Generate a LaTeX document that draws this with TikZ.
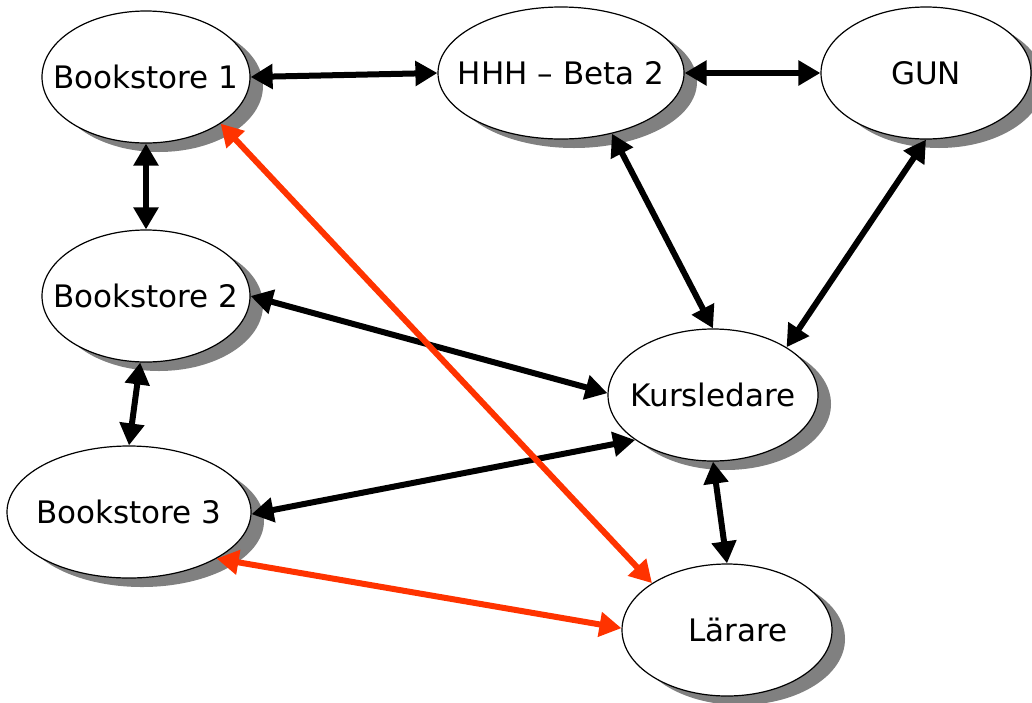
\documentclass[tikz,border=0pt]{standalone}
\usepackage{fontspec}
\setmainfont{DejaVu Sans}
\usetikzlibrary{shapes.geometric, shadows, arrows.meta}
\definecolor{linkred}{RGB}{255,51,0}

\begin{document}
\begin{tikzpicture}[x=0.5pt, y=-0.5pt, >={Triangle[length=11pt,width=12pt]},
    actor/.style={ellipse, draw, line width=0.6pt, fill=white, minimum height=66pt,
      inner xsep=-20pt, inner ysep=0pt, font=\fontsize{15.5}{18}\selectfont,
      drop shadow={shadow xshift=6.5pt, shadow yshift=-4.5pt, fill=gray, opacity=1}},
    link/.style={line width=3pt, <->},
    redlink/.style={link, draw=linkred}]
  \useasboundingbox (0,0) rectangle (1032,702);
  % actors
  \node [actor, minimum width=104pt] (bs1) at (146,77) {Bookstore 1};
  \node [actor, minimum width=123pt] (hhh) at (561,73) {HHH – Beta 2};
  \node [actor, minimum width=105pt] (gun) at (926,73) {GUN};
  \node [actor, minimum width=104pt] (bs2) at (146,296) {Bookstore 2};
  \node [actor, minimum width=105pt] (kurs) at (713,395) {Kursledare};
  \node [actor, minimum width=122pt] (bs3) at (129,512) {Bookstore 3};
  \node [actor, minimum width=105pt] (lar) at (727,630) {\hspace{11pt}Lärare};
  % links
  \draw [link] (bs1.0) -- (hhh.180);
  \draw [link] (hhh.0) -- (gun.180);
  \draw [link] (bs1.-90) -- (bs2.90);
  \draw [link] (bs2.-95) -- (bs3.90);
  \draw [link] (bs2.0) -- (kurs.179);
  \draw [link] (kurs.210) -- (bs3.-1);
  \draw [link] (hhh.-50) -- (kurs.90);
  \draw [link] (gun.-90) -- (kurs.33);
  \draw [link] (kurs.-90) -- (lar.90);
  \draw [redlink] (bs1.-32) -- (lar.148);
  \draw [redlink] (bs3.-28) -- (lar.179);
\end{tikzpicture}
\end{document}
